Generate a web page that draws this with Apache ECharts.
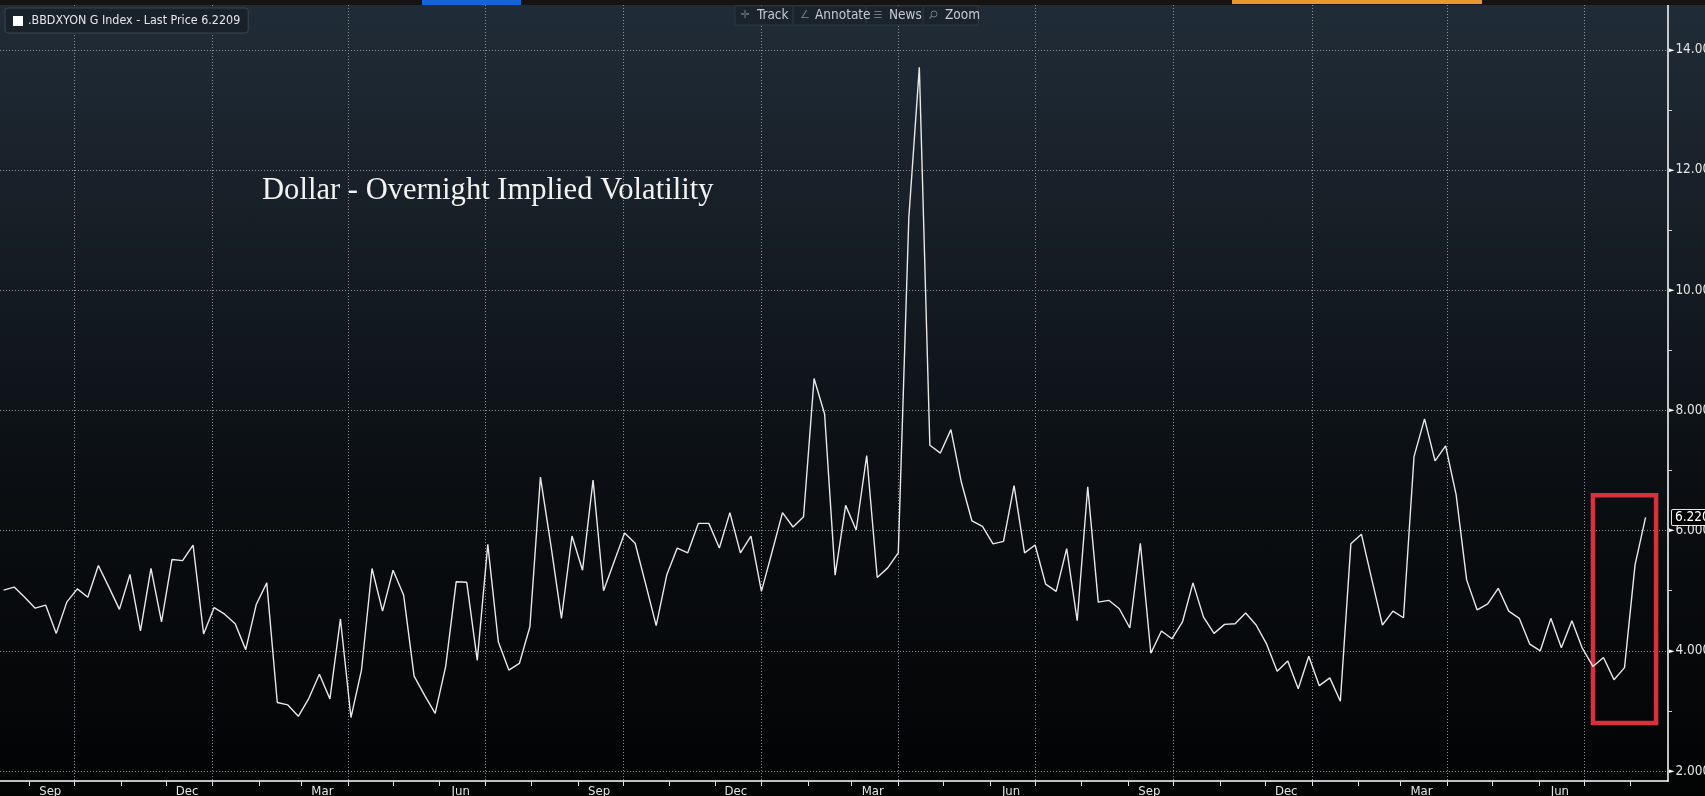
<!DOCTYPE html>
<html>
<head>
<meta charset="utf-8">
<style>
  html, body { margin: 0; padding: 0; width: 1705px; height: 796px; overflow: hidden; background: #000; }
  #chart { width: 1705px; height: 796px; background: linear-gradient(to bottom, #202c37 0%, #141b22 35%, #0b0f13 60%, #020303 100%); }
</style>
<script src="https://cdn.jsdelivr.net/npm/echarts@6.0.0/dist/echarts.min.js"></script>
</head>
<body>
<div id="chart"></div>
<script>
// ---------------- data ----------------
const weekStart = '2018-08-15';           // first weekly observation
const vol = [
  5.01, 5.06, 4.89, 4.71, 4.76, 4.29, 4.81, 5.03, 4.89, 5.42,
  5.06, 4.69, 5.27, 4.33, 5.37, 4.48, 5.52, 5.50, 5.76, 4.28,
  4.72, 4.61, 4.45, 4.02, 4.77, 5.13, 3.14, 3.10, 2.91, 3.21,
  3.61, 3.20, 4.53, 2.89, 3.68, 5.37, 4.66, 5.34, 4.93, 3.58,
  3.26, 2.96, 3.74, 5.15, 5.14, 3.84, 5.77, 4.15, 3.68, 3.79,
  4.40, 6.89, 5.75, 4.54, 5.91, 5.34, 6.84, 5.00, 5.48, 5.96,
  5.79, 5.11, 4.42, 5.26, 5.71, 5.63, 6.12, 6.12, 5.71, 6.30,
  5.63, 5.91, 4.99, 5.64, 6.30, 6.06, 6.23, 8.53, 7.94, 5.26,
  6.42, 6.01, 7.25, 5.22, 5.38, 5.63, 11.20, 13.71, 7.42, 7.29,
  7.68, 6.80, 6.16, 6.07, 5.78, 5.82, 6.75, 5.63, 5.76, 5.11,
  4.99, 5.70, 4.50, 6.73, 4.81, 4.84, 4.70, 4.38, 5.79, 3.96,
  4.33, 4.20, 4.48, 5.13, 4.56, 4.29, 4.44, 4.45, 4.63, 4.43,
  4.11, 3.66, 3.83, 3.37, 3.91, 3.42, 3.55, 3.16, 5.78, 5.94,
  5.18, 4.43, 4.66, 4.55, 7.23, 7.86, 7.16, 7.41, 6.60, 5.18,
  4.68, 4.78, 5.04, 4.66, 4.54, 4.11, 4.00, 4.54, 4.05, 4.50,
  4.04, 3.74, 3.89, 3.52, 3.72, 5.43, 6.2209
];
const seriesName = '.BBDXYON G Index - Last Price 6.2209';
const lastPriceLabel = '6.220';
const chartTitle = 'Dollar - Overnight Implied Volatility';

const monthLabelDates = ['2018-09-15','2018-12-15','2019-03-15','2019-06-15','2019-09-15','2019-12-15',
                         '2020-03-15','2020-06-15','2020-09-15','2020-12-15','2021-03-15','2021-06-15'];
const monthLabelTexts = ['Sep','Dec','Mar','Jun','Sep','Dec','Mar','Jun','Sep','Dec','Mar','Jun'];
const quarterLineDates = ['2018-10-01','2019-01-01','2019-04-01','2019-07-01','2019-10-01','2020-01-01',
                          '2020-04-01','2020-07-01','2020-10-01','2021-01-01','2021-04-01','2021-07-01'];
const xRange = ['2018-08-12T14:00', '2021-08-25T22:00'];

const yLabelValues = [2, 4, 6, 8, 10, 12, 14];
const yLabelTexts  = ['2.000', '4.000', '6.000', '8.000', '10.00', '12.00', '14.00'];
const yMinorTicks  = [3, 5, 7, 9, 11, 13];
const yRange = [1.834, 14.745];

const highlightBox = { from: '2021-07-07', to: '2021-08-18', low: 2.80, high: 6.59 };

// ---------------- helpers ----------------
function ts(s) {
  const [d, t] = s.split('T');
  const [y, m, dd] = d.split('-').map(Number);
  let h = 0, mi = 0;
  if (t) { [h, mi] = t.split(':').map(Number); }
  return Date.UTC(y, m - 1, dd, h, mi);
}
const DAY = 86400000;
const t0 = ts(weekStart);
const seriesData = vol.map((v, i) => [t0 + i * 7 * DAY, v]);

const monthTicks = [];
for (let y = 2018, m = 8; !(y === 2021 && m === 8); ) {
  monthTicks.push(Date.UTC(y, m, 1));
  m++; if (m === 12) { m = 0; y++; }
}
const labelTs = monthLabelDates.map(ts);
const quarterTs = quarterLineDates.map(ts);

const NARROW = '"Liberation Sans Narrow", "DejaVu Sans Condensed", "Arial Narrow", sans-serif';
const gridLine = { show: true, lineStyle: { color: '#8a9096', width: 1, type: [1, 2] } };

const chart = echarts.init(document.getElementById('chart'), null, { renderer: 'canvas' });

const option = {
  backgroundColor: 'transparent',
  animation: false,
  title: {
    text: chartTitle,
    left: 262, top: 175, padding: 0,
    textStyle: { color: '#f2f2f2', fontFamily: '"Liberation Serif", "Times New Roman", serif', fontSize: 30.6, fontWeight: 'normal' }
  },
  legend: {
    left: 5, top: 8,
    selectedMode: false,
    icon: 'rect', itemWidth: 10, itemHeight: 10, itemGap: 4,
    backgroundColor: '#19222b', borderColor: '#3a444e', borderWidth: 1, borderRadius: 3,
    padding: [7, 8, 6, 8],
    textStyle: { color: '#e6e6e6', fontSize: 12.4, fontFamily: NARROW },
    data: [{ name: seriesName, itemStyle: { color: '#ffffff' } }]
  },
  grid: { left: 0, right: 37, top: 5, bottom: 15, containLabel: false, outerBoundsMode: 'none' },
  xAxis: [
    {
      type: 'value', min: ts(xRange[0]), max: ts(xRange[1]),
      position: 'bottom', scale: true,
      axisLine: { show: true, lineStyle: { color: '#ffffff', width: 1.5 } },
      axisTick: { show: true, length: 5, inside: false, lineStyle: { color: '#e0e0e0', width: 1 }, customValues: monthTicks },
      axisLabel: {
        show: true, customValues: labelTs, margin: 4,
        color: '#e4e4e4', fontSize: 13, fontFamily: NARROW,
        formatter: function (v) { const k = labelTs.indexOf(v); return k >= 0 ? monthLabelTexts[k] : ''; }
      },
      splitLine: { show: false },
      minorTick: { show: false }
    },
    {
      type: 'value', min: ts(xRange[0]), max: ts(xRange[1]),
      position: 'bottom', scale: true,
      axisLine: { show: false },
      axisTick: { show: false, customValues: quarterTs },
      axisLabel: { show: false, customValues: quarterTs },
      splitLine: gridLine
    }
  ],
  yAxis: [
    {
      type: 'value', min: yRange[0], max: yRange[1], position: 'right',
      axisLine: { show: true, lineStyle: { color: '#ffffff', width: 1.5 } },
      axisTick: { show: false, customValues: yLabelValues },
      axisLabel: {
        show: true, customValues: yLabelValues, margin: 1,
        formatter: function (v) { const k = yLabelValues.indexOf(v); return '{t|\u25BA}{v|' + (k >= 0 ? yLabelTexts[k] : '') + '}'; },
        rich: {
          t: { fontSize: 7, color: '#ffffff', padding: [0, 1, 0, 0], fontFamily: '"DejaVu Sans", sans-serif' },
          v: { fontSize: 13.5, color: '#e4e4e4', fontFamily: NARROW }
        }
      },
      splitLine: gridLine
    },
    {
      type: 'value', min: yRange[0], max: yRange[1], position: 'right',
      axisLine: { show: false },
      axisTick: { show: true, length: 4, inside: false, lineStyle: { color: '#d0d0d0', width: 1 }, customValues: yMinorTicks },
      axisLabel: { show: false, customValues: yMinorTicks },
      splitLine: { show: false }
    }
  ],
  series: [
    {
      name: seriesName,
      type: 'line',
      xAxisIndex: 0, yAxisIndex: 0,
      data: seriesData,
      showSymbol: false, symbol: 'none',
      lineStyle: { color: '#e8e8e8', width: 1.4 },
      itemStyle: { color: '#ffffff' },
      z: 3,
      markLine: {
        silent: true, symbol: 'none', animation: false,
        lineStyle: { color: 'rgba(0,0,0,0)', width: 0, type: 'solid' },
        data: [{ yAxis: vol[vol.length - 1] }],
        label: {
          show: true, position: 'end', distance: 4,
          formatter: lastPriceLabel,
          color: '#ffffff', fontSize: 13.5, fontFamily: NARROW,
          backgroundColor: '#000000', borderColor: '#e6e6e6', borderWidth: 1, borderRadius: 1,
          padding: [1, 3, 0, 3]
        }
      },
      markArea: {
        silent: true,
        itemStyle: { color: 'rgba(0,0,0,0)', borderColor: '#d7323b', borderWidth: 4.5 },
        label: { show: false },
        data: [[
          { xAxis: ts(highlightBox.from), yAxis: highlightBox.high },
          { xAxis: ts(highlightBox.to), yAxis: highlightBox.low }
        ]]
      }
    }
  ],
  graphic: [
    { type: 'rect', shape: { x: 0, y: 0, width: 1705, height: 5 }, style: { fill: '#161412' }, z: 100 },
    { type: 'rect', shape: { x: 422, y: 0, width: 99, height: 5 }, style: { fill: '#1565d8' }, z: 101 },
    { type: 'rect', shape: { x: 1232, y: 0, width: 250, height: 4 }, style: { fill: '#e8982f' }, z: 101 },
    { type: 'rect', shape: { x: 735, y: 6, width: 243, height: 19 }, style: { fill: '#1b232b', stroke: '#2f3942', lineWidth: 1 }, z: 100 },
    { type: 'line', shape: { x1: 793, y1: 7, x2: 793, y2: 24 }, style: { stroke: '#323c46', lineWidth: 1 }, z: 101 },
    { type: 'line', shape: { x1: 866, y1: 7, x2: 866, y2: 24 }, style: { stroke: '#323c46', lineWidth: 1 }, z: 101 },
    { type: 'line', shape: { x1: 923, y1: 7, x2: 923, y2: 24 }, style: { stroke: '#323c46', lineWidth: 1 }, z: 101 },
    { type: 'text', style: { x: 745, y: 15.5, text: '\u271B', fill: '#6f7880', font: '11px "DejaVu Sans", sans-serif', align: 'center', verticalAlign: 'middle' }, z: 101 },
    { type: 'text', style: { x: 757, y: 15.5, text: 'Track', fill: '#c6cbd0', font: '13.5px ' + NARROW, verticalAlign: 'middle' }, z: 101 },
    { type: 'text', style: { x: 805, y: 15.5, text: '\u2220', fill: '#6f7880', font: '11px "DejaVu Sans", sans-serif', align: 'center', verticalAlign: 'middle' }, z: 101 },
    { type: 'text', style: { x: 815, y: 15.5, text: 'Annotate', fill: '#c6cbd0', font: '13.5px ' + NARROW, verticalAlign: 'middle' }, z: 101 },
    { type: 'text', style: { x: 878, y: 15.5, text: '\u2630', fill: '#6f7880', font: '10px "DejaVu Sans", sans-serif', align: 'center', verticalAlign: 'middle' }, z: 101 },
    { type: 'text', style: { x: 889, y: 15.5, text: 'News', fill: '#c6cbd0', font: '13.5px ' + NARROW, verticalAlign: 'middle' }, z: 101 },
    { type: 'circle', shape: { cx: 934, cy: 14, r: 3 }, style: { fill: 'none', stroke: '#6f7880', lineWidth: 1 }, z: 101 },
    { type: 'line', shape: { x1: 931.8, y1: 16.2, x2: 929.5, y2: 18.5 }, style: { stroke: '#6f7880', lineWidth: 1.2 }, z: 101 },
    { type: 'text', style: { x: 945, y: 15.5, text: 'Zoom', fill: '#c6cbd0', font: '13.5px ' + NARROW, verticalAlign: 'middle' }, z: 101 }
  ]
};
chart.setOption(option);
</script>
</body>
</html>
